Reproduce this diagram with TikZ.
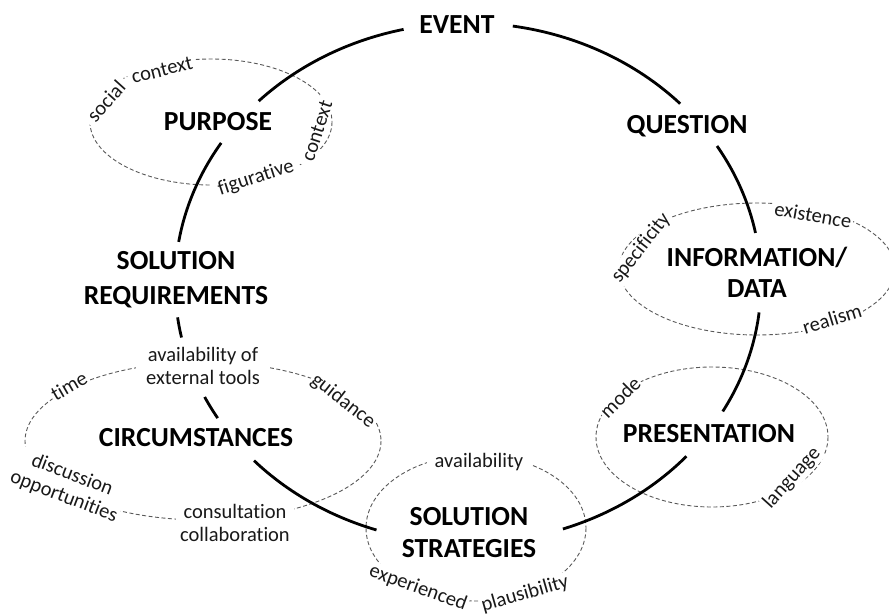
\documentclass[tikz,border=0pt]{standalone}
\usepackage{fontspec}
\setmainfont[Ligatures=CommonOff]{Carlito}
\begin{document}
\begin{tikzpicture}[x=1pt,y=-1pt,
  big/.style={font=\bfseries\fontsize{27.6}{33}\selectfont, align=center, text=black, inner sep=0pt},
  small/.style={font=\fontsize{20.5}{23}\selectfont, align=center, fill=white, inner sep=1.5pt, text=black!90},
  cyc/.style={line width=2.8pt, black},
  dashring/.style={draw=black!65, line width=0.9pt, dash pattern=on 4pt off 2.5pt}]
\useasboundingbox (0,0) rectangle (889,615);
\clip (0,0) rectangle (889,615);
\coordinate (ctr) at (468,283);
% dashed ellipses
\draw[dashring] (211,122) ellipse[x radius=121, y radius=63];
\draw[dashring] (757,269) ellipse[x radius=138, y radius=66];
\draw[dashring] (712,437) ellipse[x radius=116, y radius=70];
\draw[dashring] (203,441) ellipse[x radius=178, y radius=79];
\draw[dashring] (476,528) ellipse[x radius=110, y radius=73];
% small labels
\node[small, rotate=48, inner xsep=5pt] (social) at (106,101) {social};
\node[small, rotate=14, inner xsep=4pt] (ctxa) at (162,70) {context};
\node[small, rotate=72, inner xsep=5pt] (ctxb) at (317,131) {context};
\node[small, rotate=18, inner xsep=5pt] (figur) at (256,178) {figurative};
\node[small, rotate=52] (specif) at (641,248) {specificity};
\node[small, rotate=-10] (exist) at (813,215) {existence};
\node[small, rotate=17] (realism) at (832,319) {realism};
\node[small, rotate=45] (mode) at (620,397) {mode};
\node[small, rotate=48] (lang) at (792,478) {language};
\node[small, rotate=30] (time) at (69,386) {time};
\node[small, rotate=-38] (guid) at (343,401) {guidance};
\node[small, inner xsep=10pt] (tools) at (203,366) {availability of\\external tools};
\node[small, rotate=-21] (discuss) at (68,486) {discussion\\opportunities};
\node[small, inner xsep=4pt] (consult) at (235,523) {consultation\\collaboration};
\node[small, inner xsep=8pt] (avail) at (479,462) {availability};
\node[small, rotate=-20] (exper) at (418,588) {experienced};
\node[small, rotate=16] (plaus) at (525,594) {plausibility};
% big labels
\node[big, anchor=base] (event) at (457,34) {EVENT};
\node[big, anchor=base] (question) at (687,134) {QUESTION};
\node[big, anchor=base] (purpose) at (218,131) {PURPOSE};
\node[big, font=\bfseries\fontsize{27.6}{31}\selectfont] (info) at (757,272) {INFORMATION/\\DATA};
\node[big, anchor=base] (pres) at (709,442) {PRESENTATION};
\node[big, font=\bfseries\fontsize{27.6}{32}\selectfont] (strat) at (469,533) {SOLUTION\\STRATEGIES};
\node[big, anchor=base] (circ) at (196,446) {CIRCUMSTANCES};
\node[big, font=\bfseries\fontsize{27.6}{35}\selectfont] (req) at (176,280) {SOLUTION\\REQUIREMENTS};
% main cycle arcs
\foreach \a/\b in {257.3/224.4, 212.6/189.1, 172.4/167.9, 154/148.7, 136.9/108.2, 71.1/41.8, 29.6/6.5, -11.1/-31.8, -43.6/-81.2}
  \draw[cyc] ([shift={(\a:293 and 260)}]ctr) arc[start angle=\a, end angle=\b, x radius=293, y radius=260];
\end{tikzpicture}
\end{document}
